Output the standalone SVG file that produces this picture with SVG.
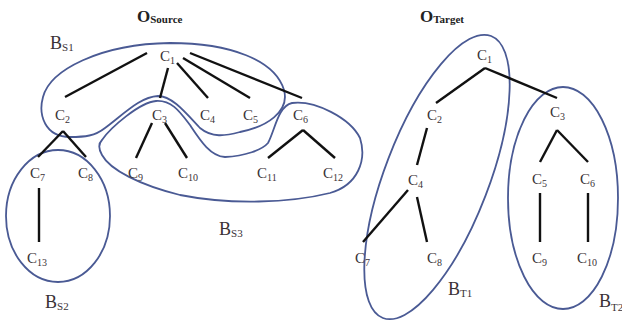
<svg xmlns="http://www.w3.org/2000/svg" width="622" height="322" viewBox="0 0 622 322">
<style>
text{font-family:"Liberation Serif","Times New Roman",serif;fill:#3a3236}
.c{font-size:15px}
.s{font-size:10px}
.b{font-size:18px}
.bs{font-size:11px}
.o{font-size:17px;font-weight:bold;fill:#222}
.os{font-size:11px;font-weight:bold}
.e line{stroke:#111;stroke-width:2.4;stroke-linecap:butt}
.bub{fill:none;stroke:#4a5a94;stroke-width:1.8}
</style>
<rect width="622" height="322" fill="#fff"/>
<g id="bubbles">
<path id="BS1" class="bub" d="M170,43 C230,43 275,60 284,90 C290,112 266,127 240,132 C225,136 212,138 200,128 C185,112 172,96 158,96 C140,97 125,113 105,128 C95,136 85,137 70,137 C45,137 38,115 43,97 C50,70 100,44 170,43 Z"/>
<path id="BS3" class="bub" d="M102,140 C110,128 140,102 156,101 C172,100 180,112 190,125 C200,140 210,156 225,157 C245,156 262,150 268,143 C275,130 278,106 292,103 C315,100 350,118 360,138 C367,160 358,185 330,193 C290,203 230,205 180,195 C140,185 110,170 102,155 C98,148 99,143 102,140 Z"/>
<ellipse id="BS2" class="bub" cx="58" cy="216" rx="52" ry="66"/>
<ellipse id="BT1" class="bub" cx="437" cy="177" rx="52" ry="151" transform="rotate(21 437 177)"/>
<ellipse id="BT2" class="bub" cx="563" cy="198" rx="55" ry="111"/>
</g>
<g id="connectors" class="e">
<line x1="147" y1="53" x2="65" y2="97"/>
<line x1="168" y1="68" x2="160" y2="98"/>
<line x1="177" y1="63" x2="208" y2="98"/>
<line x1="183" y1="58" x2="250" y2="98"/>
<line x1="190" y1="53" x2="302" y2="98"/>
<line x1="63" y1="131" x2="38" y2="157"/>
<line x1="63" y1="131" x2="86" y2="157"/>
<line x1="152" y1="123" x2="136" y2="158"/>
<line x1="165" y1="123" x2="187" y2="158"/>
<line x1="303" y1="130" x2="268" y2="158"/>
<line x1="303" y1="130" x2="335" y2="158"/>
<line x1="39" y1="188" x2="39" y2="242"/>
<line x1="485" y1="68" x2="436" y2="103"/>
<line x1="485" y1="68" x2="557" y2="98"/>
<line x1="427" y1="128" x2="417" y2="165"/>
<line x1="408" y1="190" x2="363" y2="242"/>
<line x1="417" y1="197" x2="427" y2="242"/>
<line x1="557" y1="130" x2="540" y2="162"/>
<line x1="557" y1="130" x2="588" y2="162"/>
<line x1="540" y1="193" x2="540" y2="242"/>
<line x1="588" y1="193" x2="588" y2="242"/>
</g>
<g id="titles">
<text x="137" y="22" class="o">O<tspan class="os" dy="1">Source</tspan></text>
<text x="420" y="22" class="o">O<tspan class="os" dy="1">Target</tspan></text>
</g>
<g id="bubble-labels">
<text x="50" y="49" class="b">B<tspan class="bs" dy="2">S1</tspan></text>
<text x="219" y="235" class="b">B<tspan class="bs" dy="2">S3</tspan></text>
<text x="45" y="308" class="b">B<tspan class="bs" dy="2">S2</tspan></text>
<text x="448" y="295" class="b">B<tspan class="bs" dy="2">T1</tspan></text>
<text x="599" y="307" class="b">B<tspan class="bs" dy="4">T2</tspan></text>
</g>
<g id="s-C1"><text x="160" y="61" class="c">C<tspan class="s" dy="3">1</tspan></text></g>
<g id="s-C2"><text x="55" y="120" class="c">C<tspan class="s" dy="3">2</tspan></text></g>
<g id="s-C3"><text x="152" y="120" class="c">C<tspan class="s" dy="3">3</tspan></text></g>
<g id="s-C4"><text x="200" y="120" class="c">C<tspan class="s" dy="3">4</tspan></text></g>
<g id="s-C5"><text x="243" y="120" class="c">C<tspan class="s" dy="3">5</tspan></text></g>
<g id="s-C6"><text x="293" y="120" class="c">C<tspan class="s" dy="3">6</tspan></text></g>
<g id="s-C7"><text x="30" y="178" class="c">C<tspan class="s" dy="3">7</tspan></text></g>
<g id="s-C8"><text x="78" y="178" class="c">C<tspan class="s" dy="3">8</tspan></text></g>
<g id="s-C9"><text x="128" y="178" class="c">C<tspan class="s" dy="3">9</tspan></text></g>
<g id="s-C10"><text x="178" y="178" class="c">C<tspan class="s" dy="3">10</tspan></text></g>
<g id="s-C11"><text x="257" y="178" class="c">C<tspan class="s" dy="3">11</tspan></text></g>
<g id="s-C12"><text x="323" y="178" class="c">C<tspan class="s" dy="3">12</tspan></text></g>
<g id="s-C13"><text x="27" y="263" class="c">C<tspan class="s" dy="3">13</tspan></text></g>
<g id="t-C1"><text x="477" y="60" class="c">C<tspan class="s" dy="3">1</tspan></text></g>
<g id="t-C2"><text x="427" y="120" class="c">C<tspan class="s" dy="3">2</tspan></text></g>
<g id="t-C3"><text x="550" y="117" class="c">C<tspan class="s" dy="3">3</tspan></text></g>
<g id="t-C4"><text x="408" y="185" class="c">C<tspan class="s" dy="3">4</tspan></text></g>
<g id="t-C5"><text x="532" y="184" class="c">C<tspan class="s" dy="3">5</tspan></text></g>
<g id="t-C6"><text x="580" y="184" class="c">C<tspan class="s" dy="3">6</tspan></text></g>
<g id="t-C7"><text x="355" y="263" class="c">C<tspan class="s" dy="3">7</tspan></text></g>
<g id="t-C8"><text x="427" y="263" class="c">C<tspan class="s" dy="3">8</tspan></text></g>
<g id="t-C9"><text x="532" y="263" class="c">C<tspan class="s" dy="3">9</tspan></text></g>
<g id="t-C10"><text x="577" y="263" class="c">C<tspan class="s" dy="3">10</tspan></text></g>
</svg>
